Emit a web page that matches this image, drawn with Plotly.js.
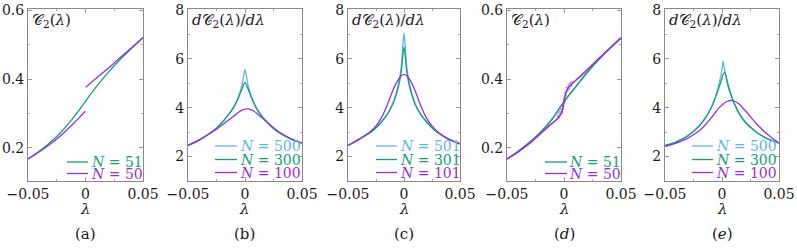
<!DOCTYPE html>
<html>
<head>
<meta charset="utf-8">
<script src="https://cdn.plot.ly/plotly-3.0.1.min.js"></script>
<style>html,body{margin:0;padding:0;background:#fff;}#chart{width:797px;height:250px;}</style>
</head>
<body>
<div id="chart"></div>
<script>
// ---------- data ----------
// (a) C2(lambda)
const lamA51 = [-0.05,-0.04,-0.03,-0.02,-0.01,-0.005,0,0.005,0.01,0.02,0.03,0.04,0.05];
const a51    = [0.167,0.190,0.217,0.250,0.290,0.312,0.335,0.358,0.380,0.420,0.456,0.489,0.520];
const lamA50lo = [-0.05,-0.04,-0.03,-0.02,-0.01,-0.005,-0.0002];
const a50lo    = [0.167,0.188,0.212,0.240,0.272,0.289,0.306];
const lamA50hi = [0.0002,0.005,0.01,0.02,0.03,0.04,0.05];
const a50hi    = [0.376,0.390,0.404,0.432,0.462,0.491,0.521];

// (b) dC2/dlambda
const lamB = [-0.05,-0.04,-0.03,-0.025,-0.02,-0.015,-0.01,-0.0075,-0.005,-0.0025,0,0.0025,0.005,0.0075,0.01,0.015,0.02,0.025,0.03,0.04,0.05];
const b500 = [2.45,2.68,2.98,3.17,3.40,3.68,4.02,4.25,4.55,4.95,5.55,4.95,4.55,4.25,4.00,3.65,3.38,3.15,2.97,2.72,2.55];
const b300 = [2.45,2.68,2.98,3.17,3.40,3.68,4.00,4.22,4.48,4.78,5.03,4.78,4.48,4.20,3.97,3.63,3.37,3.15,2.97,2.72,2.55];
const b100 = [2.45,2.68,2.96,3.12,3.29,3.47,3.65,3.74,3.83,3.90,3.94,3.95,3.92,3.86,3.78,3.58,3.38,3.18,3.00,2.73,2.55];

// (c) dC2/dlambda
const lamC = [-0.05,-0.04,-0.03,-0.025,-0.02,-0.015,-0.01,-0.0075,-0.005,-0.0025,0,0.0025,0.005,0.0075,0.01,0.015,0.02,0.025,0.03,0.04,0.05];
const c501 = [2.45,2.70,2.98,3.18,3.42,3.72,4.17,4.50,4.95,5.65,7.05,5.65,4.95,4.50,4.15,3.72,3.42,3.18,2.98,2.70,2.52];
const c301 = [2.45,2.70,2.98,3.18,3.42,3.72,4.15,4.45,4.85,5.45,6.48,5.45,4.85,4.45,4.13,3.72,3.42,3.18,2.98,2.70,2.52];
const c101 = [2.45,2.72,3.02,3.25,3.60,4.10,4.70,4.95,5.15,5.30,5.36,5.30,5.15,4.95,4.68,4.08,3.58,3.25,3.01,2.71,2.52];

// (d) C2(lambda)
const lamD51 = [-0.05,-0.04,-0.03,-0.02,-0.01,-0.005,0,0.005,0.01,0.02,0.03,0.04,0.05];
const d51    = [0.167,0.190,0.216,0.247,0.285,0.310,0.334,0.356,0.376,0.418,0.455,0.489,0.520];
const lamD50 = [-0.05,-0.04,-0.03,-0.02,-0.015,-0.01,-0.007,-0.005,-0.004,-0.003,-0.002,-0.001,0,0.001,0.002,0.003,0.004,0.006,0.008,0.01,0.015,0.02,0.03,0.04,0.05];
const d50    = [0.167,0.188,0.213,0.243,0.258,0.272,0.280,0.287,0.292,0.297,0.303,0.315,0.335,0.352,0.363,0.370,0.376,0.383,0.389,0.395,0.410,0.426,0.458,0.489,0.520];
const lamD50dots = [-0.0055,-0.0048,-0.0042,-0.0036,-0.003,-0.0025,-0.0018,-0.0012,-0.0006,0.0,0.0005,0.0011,0.0017,0.0023,0.003,0.0038,0.0046,0.0055,0.0064,0.0072];
const d50dots    = [0.292,0.300,0.289,0.305,0.296,0.312,0.303,0.325,0.318,0.340,0.332,0.360,0.352,0.376,0.366,0.384,0.372,0.388,0.380,0.392];

// (e) dC2/dlambda
const lamE = [-0.05,-0.04,-0.03,-0.02,-0.015,-0.01,-0.005,-0.0025,0,0.001,0.0025,0.005,0.0075,0.01,0.015,0.02,0.03,0.04,0.05];
const e500 = [2.45,2.60,2.85,3.25,3.55,3.95,4.55,5.00,5.55,5.90,5.50,4.90,4.55,4.25,3.80,3.45,3.00,2.72,2.55];
const e300 = [2.45,2.60,2.85,3.25,3.55,3.93,4.50,4.85,5.20,5.35,5.45,5.00,4.60,4.25,3.75,3.42,3.00,2.72,2.55];
const e100 = [2.42,2.55,2.75,3.05,3.28,3.55,3.85,4.00,4.10,4.15,4.20,4.26,4.29,4.28,4.15,3.90,3.35,2.90,2.55];

const xTicks = [-0.05, 0, 0.05];
const xTickText = ['\u22120.05', '0', '0.05'];
const cTicks = [0.2, 0.4, 0.6];
const dTicks = [2, 4, 6, 8];
const panelLabels = ['(a)', '(b)', '(c)', '(<i>d</i>)', '(<i>e</i>)'];
const legA = ['51', '50'];
const legB = ['500', '300', '100'];
const legC = ['501', '301', '101'];

// ---------- style ----------
const BLUE = '#5cb6e8', GREEN = '#14a07a', PURPLE = '#9b2fe0';
const W = 797, H = 250;
const frames = [[28,143],[188,302],[348,460],[507,621],[665,779]];
const frameTop = 9, frameBot = 181;
const px = x => x / W, py = y => 1 - y / H;

function ln(x, y, color, ax, opts) {
  return Object.assign({x: x, y: y, mode: 'lines', type: 'scatter', showlegend: false,
    line: {color: color, width: 1.3, shape: 'spline', smoothing: 0.7},
    xaxis: 'x' + (ax === 1 ? '' : ax), yaxis: 'y' + (ax === 1 ? '' : ax), hoverinfo: 'skip'}, opts || {});
}

const traces = [
  ln(lamA51, a51, GREEN, 1),
  ln(lamA50lo, a50lo, PURPLE, 1),
  ln(lamA50hi, a50hi, PURPLE, 1),
  ln(lamB, b500, BLUE, 2),
  ln(lamB, b300, GREEN, 2),
  ln(lamB, b100, PURPLE, 2),
  ln(lamC, c501, BLUE, 3),
  ln(lamC, c301, GREEN, 3),
  ln(lamC, c101, PURPLE, 3),
  ln(lamD51, d51, GREEN, 4, {line: {color: GREEN, width: 1.6, shape: 'spline', smoothing: 0.7}}),
  ln(lamD50, d50, PURPLE, 4, {line: {color: PURPLE, width: 1.6, shape: 'spline', smoothing: 0.5}}),
  {x: lamD50dots, y: d50dots, mode: 'markers', type: 'scatter', showlegend: false, xaxis: 'x4', yaxis: 'y4',
   marker: {color: PURPLE, size: 2.2, opacity: 0.55}, hoverinfo: 'skip'},
  ln(lamE, e500, BLUE, 5),
  ln(lamE, e300, GREEN, 5),
  ln(lamE, e100, PURPLE, 5)
];

const FONT = '"DejaVu Serif", "Liberation Serif", serif';
const layout = {
  width: W, height: H,
  margin: {l: 0, r: 0, t: 0, b: 0},
  paper_bgcolor: '#fff', plot_bgcolor: '#fff',
  showlegend: false,
  annotations: [], shapes: []
};

for (let i = 0; i < 5; i++) {
  const s = i === 0 ? '' : String(i + 1);
  const isC = (i === 0 || i === 3);
  layout['xaxis' + s] = {
    domain: [px(frames[i][0]), px(frames[i][1])], anchor: 'y' + s,
    range: [-0.05, 0.05], tickvals: xTicks, ticktext: xTickText,
    ticks: 'inside', ticklen: 4, tickcolor: '#999', showline: true, mirror: 'ticks',
    linecolor: '#8a8a8a', linewidth: 1, showgrid: false, zeroline: false,
    tickfont: {family: FONT, size: 14, color: '#1a1a1a'}, automargin: false,
    minor: {tickvals: [-0.025, 0.025], ticks: 'inside', ticklen: 2, tickcolor: '#aaa'}
  };
  layout['yaxis' + s] = {
    domain: [py(frameBot), py(frameTop)], anchor: 'x' + s,
    range: isC ? [0.103, 0.604] : [1.0, 8.03],
    tickvals: isC ? cTicks : dTicks,
    ticks: 'inside', ticklen: 4, tickcolor: '#999', showline: true, mirror: 'ticks',
    linecolor: '#8a8a8a', linewidth: 1, showgrid: false, zeroline: false,
    tickfont: {family: FONT, size: 14, color: '#1a1a1a'}, automargin: false,
    minor: {dtick: isC ? 0.1 : 1, ticks: 'inside', ticklen: 2, tickcolor: '#aaa'}
  };
  const cx = (frames[i][0] + frames[i][1]) / 2;
  layout.annotations.push({xref: 'paper', yref: 'paper', x: px(cx), y: py(208.5), text: '<i>λ</i>',
    showarrow: false, xanchor: 'center', yanchor: 'middle', font: {family: FONT, size: 15, color: '#1a1a1a'}});
  layout.annotations.push({xref: 'paper', yref: 'paper', x: px(cx), y: py(234), text: panelLabels[i],
    showarrow: false, xanchor: 'center', yanchor: 'middle', font: {family: FONT, size: 15, color: '#1a1a1a'}});
  layout.annotations.push({xref: 'paper', yref: 'paper', x: px(frames[i][0] + 2), y: py(20.5),
    text: isC ? '𝒞<sub>2</sub>(<i>λ</i>)' : '<i>d</i>𝒞<sub>2</sub>(<i>λ</i>)/<i>dλ</i>',
    showarrow: false, xanchor: 'left', yanchor: 'middle', font: {family: FONT, size: 15, color: '#1a1a1a'}});
}

// in-panel legends
function legend(i, labels, colors, rows, lineRel, textRel) {
  const L = frames[i][0];
  labels.forEach((lab, k) => {
    layout.shapes.push({type: 'line', xref: 'paper', yref: 'paper',
      x0: px(L + lineRel[0]), x1: px(L + lineRel[1]), y0: py(rows[k]), y1: py(rows[k]),
      line: {color: colors[k], width: 1.3}});
    layout.annotations.push({xref: 'paper', yref: 'paper', x: px(L + textRel), y: py(rows[k]),
      text: '<i>N</i> = ' + lab, showarrow: false, xanchor: 'left', yanchor: 'middle',
      font: {family: FONT, size: 14, color: colors[k]}});
  });
}
legend(0, legA, [GREEN, PURPLE], [162, 173.5], [39, 60], 61);
legend(1, legB, [BLUE, GREEN, PURPLE], [146, 159.5, 172.5], [27, 49], 50);
legend(2, legC, [BLUE, GREEN, PURPLE], [146, 159.5, 172.5], [28, 49], 50);
legend(3, legA, [GREEN, PURPLE], [162, 173.5], [38, 60], 60);
legend(4, legB, [BLUE, GREEN, PURPLE], [146, 159.5, 172.5], [27, 48], 49);

Plotly.newPlot('chart', traces, layout, {staticPlot: true, displayModeBar: false});
</script>
</body>
</html>
